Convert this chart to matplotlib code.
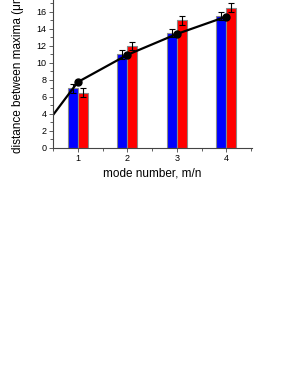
import matplotlib.pyplot as plt
from matplotlib.ticker import MultipleLocator

plt.rcParams['font.family'] = ['Liberation Sans', 'DejaVu Sans']

# data
modes = [1, 2, 3, 4]
blue_vals = [7.0, 11.0, 13.5, 15.5]
blue_err = [0.5, 0.5, 0.5, 0.5]
red_vals = [6.5, 12.0, 15.0, 16.5]
red_err = [0.5, 0.5, 0.5, 0.5]
fit_x = [0, 1, 2, 3, 4]
fit_y = [0.0, 7.75, 10.95, 13.4, 15.45]

fig = plt.figure(figsize=(2.91, 3.76), dpi=100)
# axes: left spine at x~53px, bottom at y~148px, top cut by the figure edge
ax = fig.add_axes([53 / 291, 1 - 148 / 376, (252 - 53) / 291, 148 / 376])

w = 0.2
err_style = dict(ecolor='black', elinewidth=0.8, capsize=2, capthick=0.8)
ax.bar([m - w / 2 for m in modes], blue_vals, width=w, color='#0000ff',
       edgecolor='#8a8a8a', linewidth=0.8, yerr=blue_err, error_kw=err_style)
ax.bar([m + w / 2 for m in modes], red_vals, width=w, color='#ff0000',
       edgecolor='#8a8a8a', linewidth=0.8, yerr=red_err, error_kw=err_style)

ax.plot(fit_x, fit_y, color='black', linewidth=1.6, marker='o', markersize=5,
        markevery=[1, 2, 3, 4])

ax.set_xlim(0.5, 4.52)
ax.set_ylim(0, 17.4)
ax.set_xticks(modes)
ax.xaxis.set_minor_locator(MultipleLocator(0.5))
ax.yaxis.set_major_locator(MultipleLocator(2))
ax.yaxis.set_minor_locator(MultipleLocator(1))
ax.tick_params(which='major', direction='out', length=3, width=0.6,
               labelsize=6.5, pad=1.5, color='#444444')
ax.tick_params(which='minor', direction='out', length=2, width=0.6,
               color='#444444')
for side in ['top', 'right']:
    ax.spines[side].set_visible(False)
for side in ['left', 'bottom']:
    ax.spines[side].set_linewidth(0.8)
    ax.spines[side].set_color('#444444')

ax.set_xlabel('mode number, m/n', fontsize=8.5, labelpad=3)
# y label runs off the top of the figure, as in the reference
fig.text(18 / 291, 1 - 153 / 376, 'distance between maxima (\u03bcm)',
         rotation=90, ha='center', va='bottom', fontsize=8.5)

fig.savefig('out.png', dpi=100)
